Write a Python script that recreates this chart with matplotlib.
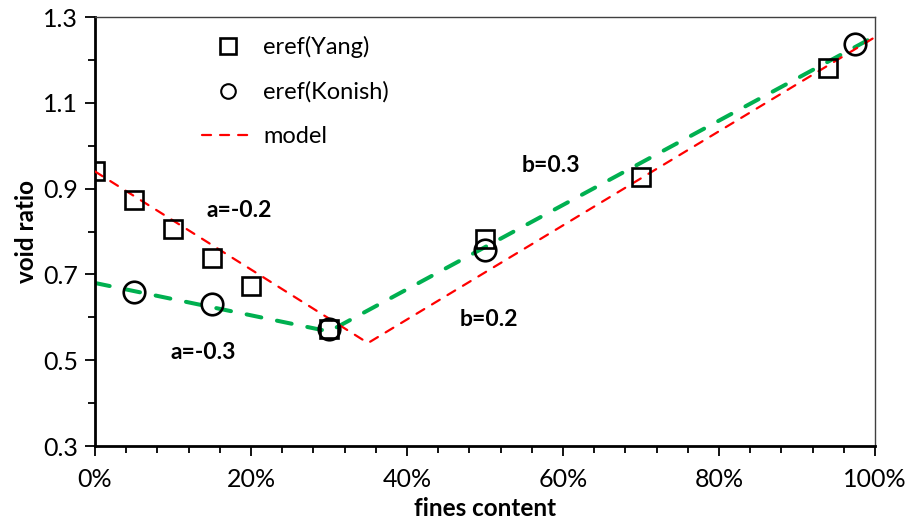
import numpy as np
import matplotlib
matplotlib.use('Agg')
import matplotlib.pyplot as plt
from matplotlib.ticker import MultipleLocator, FixedLocator, PercentFormatter

plt.rcParams['font.family'] = ['Lato', 'DejaVu Sans']
plt.rcParams['lines.scale_dashes'] = False

# data
yang_fc = [0.0, 0.05, 0.10, 0.15, 0.20, 0.30, 0.50, 0.70, 0.94]
yang_e = [0.94, 0.874, 0.806, 0.739, 0.673, 0.573, 0.783, 0.927, 1.181]

konish_fc = [0.05, 0.15, 0.30, 0.50, 0.975]
konish_e = [0.659, 0.631, 0.573, 0.757, 1.237]

model_fc = [0.0, 0.35, 1.0]
model_e = [0.94, 0.54, 1.253]

fit_fc = [0.0, 0.30, 1.0]
fit_e = [0.68, 0.567, 1.255]

y_major = [0.3, 0.5, 0.7, 0.9, 1.1, 1.3]
y_minor = [0.4, 0.6, 0.8, 1.0, 1.2]

notes = ['a=-0.2', 'a=-0.3', 'b=0.3', 'b=0.2']
note_x = [0.143, 0.097, 0.547, 0.468]
note_y = [0.850, 0.519, 0.955, 0.596]

fig = plt.figure(figsize=(9.08, 5.2), dpi=100)
ax = fig.add_axes([0.1046, 0.1423, 0.859, 0.825])

ax.plot(fit_fc, fit_e, color='#00B050', lw=2.9, dashes=(10.8, 11.5),
        dash_capstyle='round', zorder=2)
ax.plot(model_fc, model_e, color='#FF0000', lw=1.6, dashes=(6.5, 6.5),
        dash_capstyle='round', zorder=3, label='model')
ax.plot(yang_fc, yang_e, 's', ms=12.5, mfc='none', mec='black', mew=1.9,
        zorder=4, label='eref(Yang)')
ax.plot(konish_fc, konish_e, 'o', ms=15.5, mfc='none', mec='black', mew=1.9,
        zorder=4, label='eref(Konish)')

for t, x, y in zip(notes, note_x, note_y):
    ax.text(x, y, t, fontsize=16.5, fontweight='bold', va='center', ha='left')

ax.set_xlim(0, 1)
ax.set_ylim(0.3, 1.3)
ax.xaxis.set_major_locator(MultipleLocator(0.2))
ax.xaxis.set_minor_locator(MultipleLocator(0.04))
ax.xaxis.set_major_formatter(PercentFormatter(1.0, decimals=0))
ax.yaxis.set_major_locator(FixedLocator(y_major))
ax.yaxis.set_minor_locator(FixedLocator(y_minor))
ax.yaxis.set_major_formatter(plt.FuncFormatter(lambda v, p: f'{v:.1f}'))
ax.tick_params(which='both', direction='out', width=1.3, labelsize=18, color='black')
ax.tick_params(which='major', length=7, pad=5)
ax.tick_params(which='minor', length=5)
ax.tick_params(axis='x', pad=9)

for s in ['left', 'bottom']:
    ax.spines[s].set_linewidth(2)
    ax.spines[s].set_color('black')
for s in ['top', 'right']:
    ax.spines[s].set_linewidth(1)
    ax.spines[s].set_color('#404040')

ax.set_xlabel('fines content', fontsize=17.5, fontweight='bold', labelpad=4)
ax.set_ylabel('void ratio', fontsize=17.5, fontweight='bold', labelpad=4)

handles, labels = ax.get_legend_handles_labels()
order = [1, 2, 0]
leg = ax.legend([handles[i] for i in order], [labels[i] for i in order],
                loc='upper left', bbox_to_anchor=(0.11, 1.005), frameon=False,
                fontsize=17, handlelength=2.2, labelspacing=0.98, handletextpad=0.4,
                numpoints=1)
hl = leg.legend_handles
hl[0].set_markersize(11)
hl[1].set_markersize(10.5)
hl[1].set_markeredgewidth(1.5)

fig.savefig('out.png', dpi=100)
